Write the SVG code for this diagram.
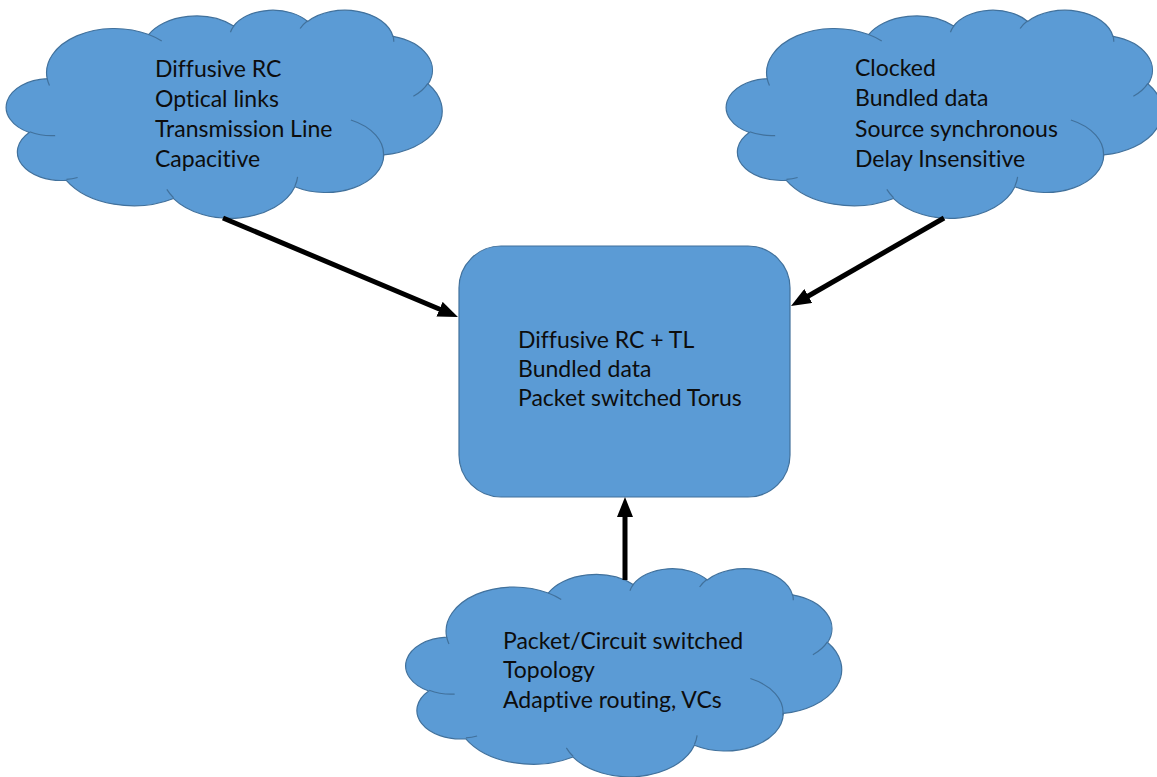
<svg xmlns="http://www.w3.org/2000/svg" width="1157" height="777" viewBox="0 0 1157 777">
<style>
.cloud{fill:#5B9BD5;stroke:#41719C;stroke-width:1.2;vector-effect:non-scaling-stroke}
.crease{fill:none;stroke:#41719C;stroke-width:1.2;vector-effect:non-scaling-stroke}
.box{fill:#5B9BD5;stroke:#41719C;stroke-width:1.2}
.lbl{font-family:Lato,"Liberation Sans",sans-serif;font-size:23px;fill:#0d0d0d;font-variant-ligatures:none}
.conn{stroke:#000;stroke-width:5;fill:none;marker-end:url(#ah)}
</style>
<defs>
<marker id="ah" viewBox="0 0 20 16" refX="8" refY="8" markerUnits="userSpaceOnUse" markerWidth="20" markerHeight="16" orient="auto">
<path d="M0,0 L20,8 L0,16 Z" fill="#000"/>
</marker>
<path id="cloudBody" class="cloud" d="M3900 14370 A6753 9190 0 0 1 14005 5202 A5333 7267 0 0 1 22457 3434 A4365 5945 0 0 1 29834 2483 A4857 6595 0 0 1 38318 5580 A5333 7273 0 0 1 41819 15464 A6775 9220 0 0 1 37405 30207 A5785 7867 0 0 1 28556 36817 A6752 9215 0 0 1 16480 39267 A7720 10543 0 0 1 5803 35471 A4360 5918 0 0 1 2113 25548 A4345 5945 0 0 1 3900 14370 Z"/>
<path id="cloudCrease" class="crease" d="M4693 26177 A4345 5945 0 0 1 2158 25379 M6928 34899 A4360 5918 0 0 1 5820 35281 M16478 39090 A6752 9215 0 0 1 15811 37350 M28827 34751 A6752 9215 0 0 1 28561 36660 M34129 22954 A5785 7867 0 0 1 37366 30597 M41798 15354 A5333 7273 0 0 1 40350 18031 M38324 5426 A4857 6595 0 0 1 38400 6690 M29078 3952 A4857 6595 0 0 1 29821 2338 M22141 4720 A4365 5945 0 0 1 22501 3329 M14000 5192 A6753 9190 0 0 1 15302 6543 M4127 15789 A6753 9190 0 0 1 3900 14370"/>
</defs>
<rect width="1157" height="777" fill="#fff"/>
<g id="cloud-physical">
<g transform="translate(8,9.5) scale(0.0100463,0.0048148)"><use href="#cloudBody"/><use href="#cloudCrease"/></g>
<text class="lbl"><tspan x="155" y="77">Diffusive RC</tspan><tspan x="155" y="107">Optical links</tspan><tspan x="155" y="137">Transmission Line</tspan><tspan x="155" y="167">Capacitive</tspan></text>
</g>
<g id="cloud-timing">
<g transform="translate(728,9.5) scale(0.0100463,0.0048148)"><use href="#cloudBody"/><use href="#cloudCrease"/></g>
<text class="lbl"><tspan x="855" y="76">Clocked</tspan><tspan x="855" y="106">Bundled data</tspan><tspan x="855" y="137">Source synchronous</tspan><tspan x="855" y="167">Delay Insensitive</tspan></text>
</g>
<g id="cloud-network">
<g transform="translate(407.5,568) scale(0.0100463,0.0048148)"><use href="#cloudBody"/><use href="#cloudCrease"/></g>
<text class="lbl"><tspan x="503" y="649">Packet/Circuit switched</tspan><tspan x="503" y="678">Topology</tspan><tspan x="503" y="708">Adaptive routing, VCs</tspan></text>
</g>
<g id="center">
<rect class="box" x="459" y="246" width="331" height="251" rx="42" ry="42"/>
<text class="lbl"><tspan x="518" y="348">Diffusive RC + TL</tspan><tspan x="518" y="377">Bundled data</tspan><tspan x="518" y="406">Packet switched Torus</tspan></text>
</g>
<g id="connectors">
<line class="conn" x1="223" y1="218" x2="446.9" y2="312.3"/>
<line class="conn" x1="944" y1="218" x2="801.4" y2="300"/>
<line class="conn" x1="625" y1="580" x2="625" y2="509"/>
</g>
</svg>
